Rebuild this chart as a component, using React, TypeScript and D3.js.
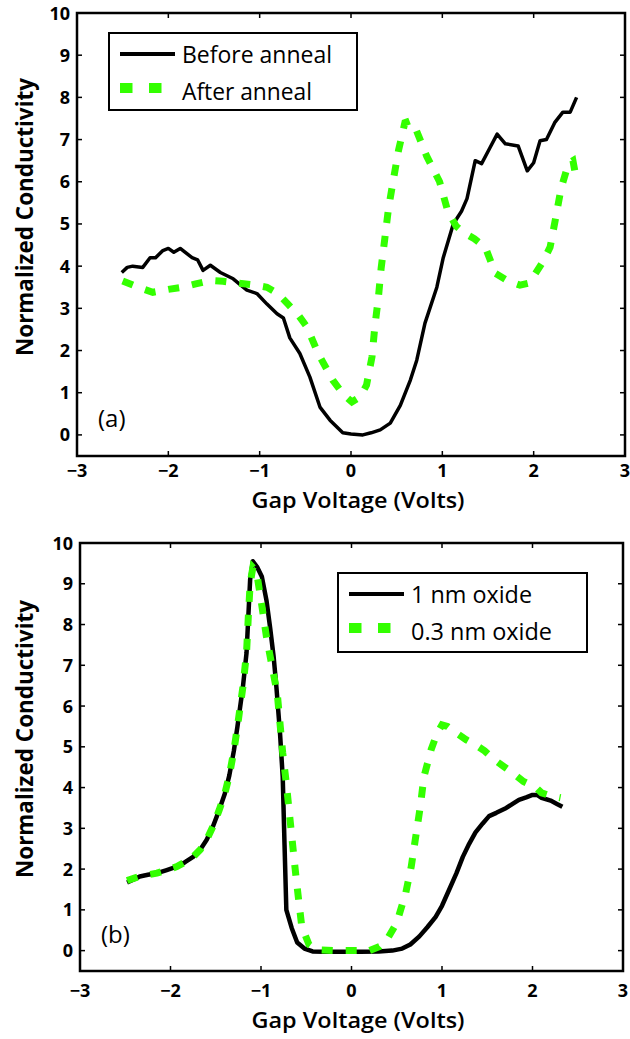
import React from "react";
import * as d3 from "d3";

// panel (a): before / after anneal
const beforeV = [-2.51, -2.45, -2.39, -2.28, -2.2, -2.14, -2.06, -2.0, -1.94, -1.87, -1.8, -1.74, -1.68, -1.62, -1.54, -1.43, -1.29, -1.14, -1.03, -0.92, -0.81, -0.74, -0.67, -0.56, -0.45, -0.34, -0.23, -0.09, 0.0, 0.13, 0.22, 0.32, 0.43, 0.54, 0.65, 0.72, 0.81, 0.94, 1.01, 1.12, 1.21, 1.27, 1.36, 1.43, 1.52, 1.6, 1.69, 1.83, 1.93, 2.0, 2.07, 2.14, 2.23, 2.32, 2.4, 2.47];
const beforeC = [3.85, 3.97, 4.0, 3.97, 4.2, 4.2, 4.37, 4.42, 4.33, 4.42, 4.3, 4.2, 4.15, 3.9, 4.02, 3.85, 3.7, 3.43, 3.35, 3.1, 2.87, 2.77, 2.3, 1.93, 1.37, 0.66, 0.35, 0.05, 0.02, 0.0, 0.05, 0.12, 0.28, 0.7, 1.3, 1.77, 2.65, 3.5, 4.2, 5.0, 5.3, 5.6, 6.5, 6.43, 6.8, 7.13, 6.9, 6.85, 6.26, 6.45, 6.97, 7.0, 7.4, 7.65, 7.65, 8.0];
const afterV = [-2.5, -2.33, -2.17, -2.0, -1.85, -1.7, -1.54, -1.4, -1.25, -1.08, -0.92, -0.8, -0.69, -0.58, -0.48, -0.36, -0.2, -0.08, 0.01, 0.1, 0.17, 0.23, 0.26, 0.3, 0.33, 0.37, 0.41, 0.46, 0.52, 0.59, 0.65, 0.71, 0.83, 0.97, 1.06, 1.15, 1.23, 1.35, 1.47, 1.58, 1.72, 1.85, 1.95, 2.02, 2.1, 2.18, 2.24, 2.3, 2.38, 2.43, 2.47];
const afterC = [3.65, 3.5, 3.38, 3.45, 3.5, 3.58, 3.66, 3.64, 3.6, 3.56, 3.5, 3.35, 3.1, 2.85, 2.55, 1.93, 1.3, 0.95, 0.78, 0.9, 1.18, 1.85, 2.55, 3.26, 3.95, 4.65, 5.36, 6.0, 6.74, 7.4, 7.45, 7.25, 6.6, 6.0, 5.3, 4.95, 4.8, 4.65, 4.45, 3.83, 3.65, 3.55, 3.6, 3.83, 4.1, 4.45, 5.13, 5.84, 6.43, 6.5, 6.03];

// panel (b): oxide thickness
const thickV = [-2.48, -2.4, -2.34, -2.25, -2.15, -2.05, -1.93, -1.84, -1.75, -1.67, -1.6, -1.53, -1.46, -1.4, -1.35, -1.3, -1.26, -1.2, -1.16, -1.14, -1.12, -1.09, -1.04, -0.99, -0.94, -0.9, -0.86, -0.83, -0.79, -0.76, -0.74, -0.72, -0.66, -0.6, -0.52, -0.43, -0.3, -0.1, 0.1, 0.3, 0.45, 0.56, 0.65, 0.75, 0.84, 0.93, 1.0, 1.08, 1.16, 1.23, 1.3, 1.37, 1.45, 1.52, 1.6, 1.71, 1.78, 1.85, 1.93, 2.0, 2.05, 2.1, 2.2, 2.27, 2.33];
const thickC = [1.67, 1.75, 1.82, 1.86, 1.9, 1.97, 2.06, 2.17, 2.3, 2.48, 2.72, 3.05, 3.46, 3.85, 4.3, 4.9, 5.5, 6.47, 7.3, 8.2, 9.1, 9.55, 9.4, 9.17, 8.6, 7.94, 7.2, 6.47, 5.34, 4.26, 2.6, 1.0, 0.55, 0.2, 0.05, -0.02, -0.03, -0.03, -0.03, -0.02, 0.0, 0.05, 0.15, 0.35, 0.58, 0.83, 1.1, 1.5, 1.9, 2.3, 2.62, 2.9, 3.12, 3.3, 3.38, 3.5, 3.6, 3.7, 3.76, 3.82, 3.82, 3.75, 3.68, 3.6, 3.53];
const thinV = [-2.48, -2.4, -2.34, -2.25, -2.15, -2.05, -1.93, -1.84, -1.75, -1.67, -1.6, -1.53, -1.46, -1.4, -1.35, -1.3, -1.26, -1.2, -1.16, -1.14, -1.12, -1.09, -1.05, -1.0, -0.94, -0.88, -0.82, -0.76, -0.72, -0.66, -0.61, -0.55, -0.47, -0.39, -0.2, 0.0, 0.2, 0.31, 0.4, 0.5, 0.6, 0.66, 0.71, 0.76, 0.8, 0.88, 0.94, 1.0, 1.06, 1.15, 1.27, 1.37, 1.47, 1.58, 1.68, 1.78, 1.9, 2.04, 2.1, 2.2, 2.31];
const thinC = [1.72, 1.78, 1.82, 1.86, 1.9, 1.97, 2.06, 2.17, 2.3, 2.48, 2.72, 3.05, 3.46, 3.85, 4.3, 4.9, 5.5, 6.47, 7.3, 8.2, 9.0, 9.4, 9.3, 8.6, 7.7, 7.0, 6.3, 4.85, 4.1, 2.8, 1.74, 0.6, 0.15, 0.02, 0.0, 0.0, 0.0, 0.1, 0.3, 0.68, 1.42, 2.06, 2.8, 3.53, 4.26, 4.93, 5.3, 5.54, 5.5, 5.35, 5.17, 5.05, 4.9, 4.68, 4.52, 4.36, 4.15, 4.0, 3.87, 3.8, 3.75];

const xTicks = [-3, -2, -1, 0, 1, 2, 3];
const yTicks = [0, 1, 2, 3, 4, 5, 6, 7, 8, 9, 10];

const GREEN = "#33ff00";
const FONT = "'Open Sans', 'DejaVu Sans', sans-serif";

function Panel(props: any) {
    const {left, right, top, bottom, solidV, solidC, dashV, dashC, solidW, tag, legend, tickOff, labelOff, yLabelMid} = props;
    const x = d3.scaleLinear().domain([-3, 3]).range([left, right]);
    const y = d3.scaleLinear().domain([-0.5, 10]).range([bottom, top]);
    const line = d3.line<[number, number]>().x(d => x(d[0])).y(d => y(d[1]));
    const solid = line(solidV.map((v: number, i: number) => [v, solidC[i]]));
    const dashed = line(dashV.map((v: number, i: number) => [v, dashC[i]]));
    const tl = 5;
    const lg = legend;
    return (
        <g>
            <path d={solid!} fill="none" stroke="#000" strokeWidth={solidW} strokeLinejoin="round" />
            <path d={dashed!} fill="none" stroke={GREEN} strokeWidth={7} strokeDasharray="11,13" />
            <rect x={left} y={top} width={right - left} height={bottom - top} fill="none" stroke="#000" strokeWidth={2.5} />
            {xTicks.map(t => (
                <g key={"x" + t}>
                    <line x1={x(t)} x2={x(t)} y1={bottom} y2={bottom - tl} stroke="#000" strokeWidth={1.5} />
                    <line x1={x(t)} x2={x(t)} y1={top} y2={top + tl} stroke="#000" strokeWidth={1.5} />
                    <text x={x(t)} y={bottom + tickOff} textAnchor="middle" fontSize={18} fontWeight={700}>{t < 0 ? "\u2212" + Math.abs(t) : t}</text>
                </g>
            ))}
            {yTicks.map(t => (
                <g key={"y" + t}>
                    <line x1={left} x2={left + tl} y1={y(t)} y2={y(t)} stroke="#000" strokeWidth={1.5} />
                    <line x1={right} x2={right - tl} y1={y(t)} y2={y(t)} stroke="#000" strokeWidth={1.5} />
                    <text x={left - 7} y={y(t) + 6.5} textAnchor="end" fontSize={18} fontWeight={700}>{t}</text>
                </g>
            ))}
            <text x={358} y={bottom + labelOff} textAnchor="middle" fontSize={22} fontWeight={600} textLength={213} lengthAdjust="spacingAndGlyphs">Gap Voltage (Volts)</text>
            <text transform={`translate(33,${yLabelMid}) rotate(-90)`} textAnchor="middle" fontSize={23} fontWeight={700} textLength={278} lengthAdjust="spacingAndGlyphs">Normalized Conductivity</text>
            <text x={left + 21} y={y(0) - 8} fontSize={24}>{tag}</text>
            <rect x={lg.x} y={lg.y} width={lg.w} height={lg.h} fill="#fff" stroke="#000" strokeWidth={2} />
            <line x1={lg.x + 11} x2={lg.x + 66} y1={lg.y + 21} y2={lg.y + 21} stroke="#000" strokeWidth={4} />
            <line x1={lg.x + 11} x2={lg.x + 66} y1={lg.y + 55} y2={lg.y + 55} stroke={GREEN} strokeWidth={10} strokeDasharray="12.5,16.5" />
            <text x={lg.x + 73} y={lg.y + 30} fontSize={23} textLength={lg.widths[0]} lengthAdjust="spacingAndGlyphs">{lg.labels[0]}</text>
            <text x={lg.x + 73} y={lg.y + 67} fontSize={23} textLength={lg.widths[1]} lengthAdjust="spacingAndGlyphs">{lg.labels[1]}</text>
        </g>
    );
}

export default function App() {
    return (
        <svg width={630} height={1039} style={{position: "absolute", left: 0, top: 0, fontFamily: FONT}}>
            <rect width={630} height={1039} fill="#fff" />
            <Panel left={77} right={625} top={13} bottom={456} solidV={beforeV} solidC={beforeC} dashV={afterV} dashC={afterC} solidW={3.5} tag="(a)"
                   tickOff={21} labelOff={52} yLabelMid={217}
                   legend={{x: 109, y: 33, w: 248, h: 77, labels: ["Before anneal", "After anneal"], widths: [150, 130]}} />
            <Panel left={80} right={623} top={543} bottom={971} solidV={thickV} solidC={thickC} dashV={thinV} dashC={thinC} solidW={4.5} tag="(b)"
                   tickOff={26} labelOff={57} yLabelMid={739}
                   legend={{x: 338, y: 573, w: 249, h: 79, labels: ["1 nm oxide", "0.3 nm oxide"], widths: [121, 141]}} />
        </svg>
    );
}
